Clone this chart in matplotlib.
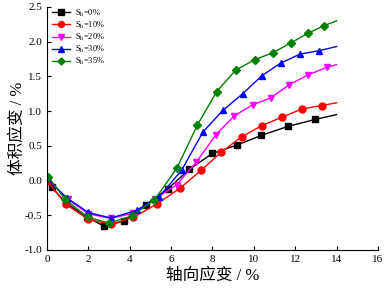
import matplotlib
matplotlib.use('Agg')
import matplotlib.pyplot as plt
from matplotlib.ticker import FormatStrFormatter

plt.rcParams['font.family'] = ['Liberation Serif', 'Noto Sans CJK SC']
plt.rcParams['mathtext.fontset'] = 'stix'

# 读取自图片的数据点
x0 = [0, 0.23, 0.9, 1.95, 2.77, 3.74, 4.77, 5.83, 6.88, 7.99, 9.17, 10.36, 11.65, 12.97, 14.0]
y0 = [0.0, -0.10, -0.32, -0.53, -0.66, -0.58, -0.35, -0.12, 0.16, 0.39, 0.51, 0.65, 0.78, 0.88, 0.95]

x10 = [0, 0.9, 2.0, 3.09, 4.17, 5.3, 6.43, 7.46, 8.43, 9.41, 10.38, 11.34, 12.32, 13.28, 14.0]
y10 = [0.0, -0.34, -0.56, -0.63, -0.53, -0.34, -0.11, 0.15, 0.41, 0.63, 0.79, 0.91, 1.03, 1.08, 1.12]

x20 = [0, 1.0, 2.0, 3.09, 4.17, 5.2, 6.27, 7.2, 8.17, 9.04, 9.94, 10.81, 11.71, 12.61, 13.52, 14.0]
y20 = [0.02, -0.27, -0.48, -0.545, -0.47, -0.27, -0.06, 0.26, 0.66, 0.93, 1.09, 1.19, 1.38, 1.52, 1.63, 1.67]

x30 = [0, 0.95, 2.0, 3.09, 4.33, 5.43, 6.51, 7.54, 8.5, 9.46, 10.39, 11.29, 12.23, 13.16, 14.0]
y30 = [0.03, -0.25, -0.46, -0.54, -0.43, -0.23, 0.15, 0.70, 1.01, 1.25, 1.51, 1.69, 1.82, 1.87, 1.93]

x35 = [0.06, 0.87, 1.97, 3.01, 4.09, 5.19, 6.28, 7.27, 8.2, 9.12, 10.04, 10.91, 11.78, 12.61, 13.39, 14.0]
y35 = [0.05, -0.27, -0.53, -0.61, -0.51, -0.28, 0.18, 0.80, 1.28, 1.59, 1.74, 1.84, 1.98, 2.12, 2.23, 2.30]

series = [
    (x0, y0, 'black', 's', r'S$_{\rm h}$=0%', 1),
    (x10, y10, 'red', 'o', r'S$_{\rm h}$=10%', 0),
    (x20, y20, 'magenta', 'v', r'S$_{\rm h}$=20%', 0),
    (x30, y30, 'blue', '^', r'S$_{\rm h}$=30%', 0),
    (x35, y35, 'green', 'D', r'S$_{\rm h}$=35%', 0),
]

fig = plt.figure(figsize=(3.86, 2.9), dpi=100)
ax = fig.add_axes([0.122, 0.138, 0.857, 0.838])

for x, y, c, m, lab, start in series:
    ms = 4.2 if m == 'D' else 5.0
    ax.plot(x, y, color=c, marker=m, markersize=ms, linewidth=1.0,
            markevery=list(range(start, len(x) - 1)), label=lab)

ax.set_xlim(0, 16)
ax.set_ylim(-1.0, 2.5)
ax.set_xticks(range(0, 17, 2))
ax.set_yticks([-1.0, -0.5, 0.0, 0.5, 1.0, 1.5, 2.0, 2.5])
ax.yaxis.set_major_formatter(FormatStrFormatter('%.1f'))
ax.tick_params(direction='in', labelsize=8, length=3, width=0.8)
ax.spines['top'].set_visible(False)
ax.spines['right'].set_visible(False)
ax.set_xlabel('轴向应变 / %', fontsize=12, labelpad=3)
ax.set_ylabel('体积应变 / %', fontsize=12, labelpad=-1)

ax.legend(loc='upper left', frameon=False, fontsize=6, handlelength=2.2,
          labelspacing=0.1, borderaxespad=0.0, handletextpad=0.6,
          markerscale=0.85, bbox_to_anchor=(0.005, 1.012))

fig.savefig('out.png', dpi=100)
